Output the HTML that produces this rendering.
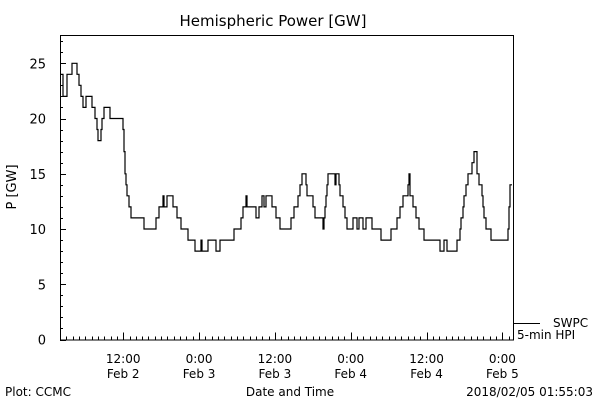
<!DOCTYPE html>
<html><head><meta charset="utf-8"><style>
html,body{margin:0;padding:0;background:#fff}
svg{display:block;font-family:"DejaVu Sans","Liberation Sans",sans-serif}
</style></head><body>
<svg id="c" width="600" height="400">
<text x="273" y="26" font-size="15" text-anchor="middle">Hemispheric Power [GW]</text>
<text transform="translate(16,187) rotate(-90)" font-size="13" text-anchor="middle">P [GW]</text>
<text x="290" y="396" font-size="12" text-anchor="middle">Date and Time</text>
<text x="5" y="396" font-size="12">Plot: CCMC</text>
<text x="593" y="396" font-size="12" text-anchor="end">2018/02/05 01:55:03</text>
<g id="ax"></g>
<g>
<line x1="513" y1="323.5" x2="540" y2="323.5" stroke="#000"/>
<text x="553" y="327" font-size="12">SWPC</text>
<text x="517" y="339" font-size="12">5-min HPI</text>
</g>
</svg>
<script>
// hours since Feb 2 02:00, step values in GW
const times=[0,.47,1.11,1.90,2.69,3.01,3.32,3.64,4.11,5.06,5.54,5.85,6.01,6.49,6.65,6.96,7.91,9.97,10.13,10.28,10.44,10.60,10.92,11.23,13.29,15.19,15.66,16.30,16.46,16.93,17.88,18.51,19.15,20.25,21.36,22.31,22.47,23.42,24.68,25.32,27.53,28.64,28.96,29.43,29.59,31.01,31.49,31.96,32.28,32.59,33.54,34.18,34.81,36.55,37.03,37.66,37.97,38.29,38.92,39.08,40.03,40.35,41.61,41.77,41.93,42.09,42.25,42.41,43.51,43.67,44.15,44.30,44.78,45.09,45.41,46.36,46.99,47.31,47.94,48.42,49.37,50.79,52.37,53.32,53.80,54.27,55.06,55.22,55.38,55.85,56.33,56.80,57.59,60.13,60.76,61.23,62.82,63.29,63.45,63.77,63.92,64.24,64.56,65.19,65.51,65.98,66.30,66.77,66.93,67.09,67.41,68.20,70.89,71.04,71.20];
const values=[24,22,24,25,24,23,22,21,22,21,20,19,18,19,20,21,20,19,17,15,14,13,12,11,10,11,12,13,12,13,12,11,10,9,8,9,8,9,8,9,10,11,12,13,12,11,12,13,12,13,12,11,10,11,12,13,14,15,14,13,12,11,10,11,12,13,14,15,14,15,14,13,12,11,10,11,10,11,10,11,10,9,10,11,12,13,14,15,13,12,11,10,9,8,9,8,9,10,11,12,13,14,15,16,17,15,14,13,12,11,10,9,10,12,14];
const endTime=71.52;
const yTicks=[0,5,10,15,20,25];
const xTickHours=[10,22,34,46,58,70];
const xTickTimes=["12:00","0:00","12:00","0:00","12:00","0:00"];
const xTickDates=["Feb 2","Feb 3","Feb 3","Feb 4","Feb 4","Feb 5"];

const L=60,R=513,T=35,B=339.5;
const xs=h=>L+h*6.32;
const ys=v=>B-v*11.05;
const NS="http://www.w3.org/2000/svg";
const svg=document.getElementById('c'),ax=document.getElementById('ax');
function mk(t,a,p){const e=document.createElementNS(NS,t);for(const k in a)e.setAttribute(k,a[k]);(p||ax).appendChild(e);return e;}
const frame=mk('rect',{x:L+.5,y:T+.5,width:R-L,height:B-T,fill:'none',stroke:'#000'});


for(let v=0;v<=27;v++){const y=Math.round(ys(v))+.5;const major=v%5===0;
 const t=mk('line',{x1:L,y1:y,x2:L+(major?6:3),y2:y,stroke:'#000'});
 
 }
yTicks.forEach(v=>{const t=mk('text',{x:L-14,y:ys(v)+5,'font-size':13,'text-anchor':'end'});t.textContent=v;
 
 });
for(let h=1;h<=71;h++){const x=Math.round(xs(h))+.5;const major=xTickHours.includes(h);
 const t=mk('line',{x1:x,y1:B,x2:x,y2:B-(major?7:3),stroke:'#000'});
 
 }
xTickHours.forEach((h,i)=>{
 const a=mk('text',{x:xs(h),y:363,'font-size':12,'text-anchor':'middle'});a.textContent=xTickTimes[i];
 
 
 const b=mk('text',{x:xs(h),y:378,'font-size':12,'text-anchor':'middle'});b.textContent=xTickDates[i];
 
 });
let d='';
for(let i=0;i<times.length;i++){const x=xs(times[i]).toFixed(1),y=ys(values[i]).toFixed(1);
 d+=(i===0?'M':'V')+(i===0?x+' '+y:y);
 const nx=i+1<times.length?times[i+1]:endTime;d+='H'+xs(nx).toFixed(1);}
const p=mk('path',{d:d,fill:'none',stroke:'#000','stroke-width':1.2});


</script>
</body></html>
